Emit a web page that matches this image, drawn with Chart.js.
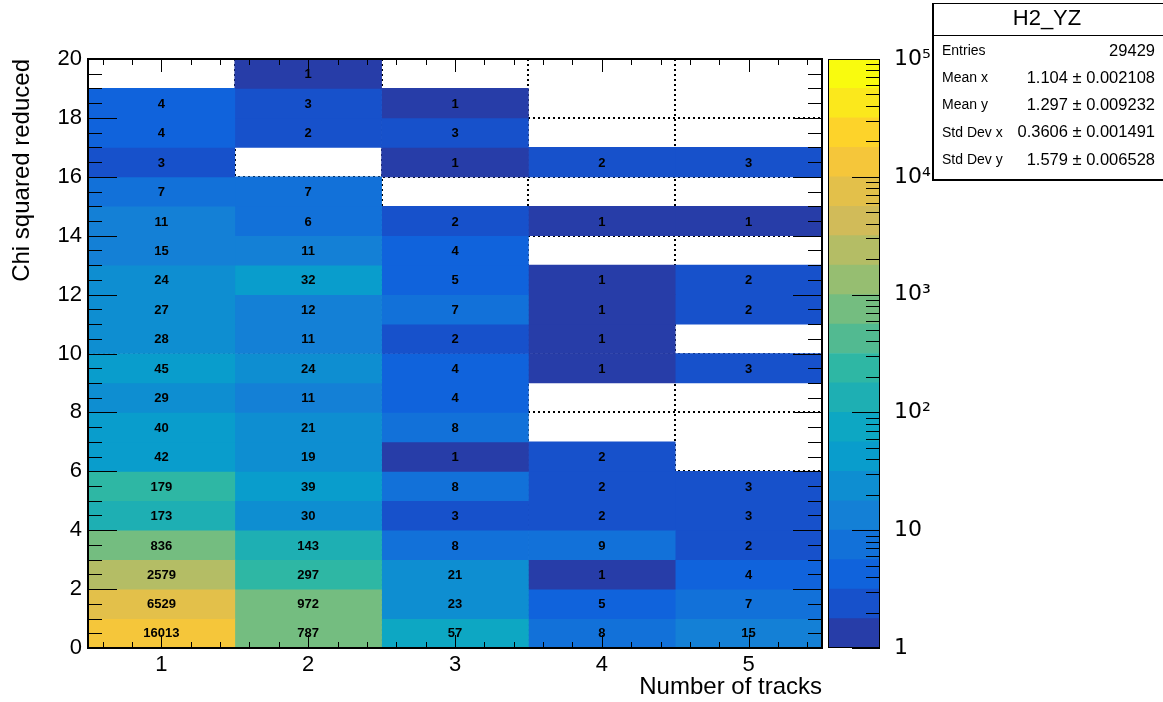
<!DOCTYPE html>
<html>
<head>
<meta charset="utf-8">
<script src="https://cdn.jsdelivr.net/npm/chart.js@4.4.1/dist/chart.umd.min.js"></script>
<style>
  body { margin: 0; background: #fff; }
  #wrap { position: relative; width: 1163px; height: 702px; }
  canvas { position: absolute; left: 0; top: 0; }
</style>
</head>
<body>
<div id="wrap">
  <canvas id="hist" width="1163" height="702"></canvas>
  <canvas id="palette" width="1163" height="702"></canvas>
</div>
<script>
// number of tracks (x bin centres)
const trackLabels = [1, 2, 3, 4, 5];
// chi2 bins, bottom to top: 0-1, 1-2, ... 19-20
const chiEdges = [0, 1, 2, 3, 4, 5, 6, 7, 8, 9, 10, 11, 12, 13, 14, 15, 16, 17, 18, 19, 20];
const chiTickLabels = [0, 2, 4, 6, 8, 10, 12, 14, 16, 18, 20];

// bin contents per track column, bottom row first (0 = empty bin)
const tracks1 = [16013, 6529, 2579, 836, 173, 179, 42, 40, 29, 45, 28, 27, 24, 15, 11, 7, 3, 4, 4, 0];
const tracks2 = [787, 972, 297, 143, 30, 39, 19, 21, 11, 24, 11, 12, 32, 11, 6, 7, 0, 2, 3, 1];
const tracks3 = [57, 23, 21, 8, 3, 8, 1, 8, 4, 4, 2, 7, 5, 4, 2, 0, 1, 3, 1, 0];
const tracks4 = [8, 5, 1, 9, 2, 2, 2, 0, 0, 1, 1, 1, 1, 0, 1, 0, 2, 0, 0, 0];
const tracks5 = [15, 7, 4, 2, 3, 3, 0, 0, 0, 3, 0, 2, 2, 0, 1, 0, 3, 0, 0, 0];
const columns = [tracks1, tracks2, tracks3, tracks4, tracks5];

const paletteDecades = [1, 10, 100, 1000, 10000, 100000];
const paletteTickLabels = ['1', '10', '10\u00B2', '10\u00B3', '10\u2074', '10\u2075'];

const statsTitle = 'H2_YZ';
const statsRows = [
    ['Entries', '29429'],
    ['Mean x', '1.104 \u00B1 0.002108'],
    ['Mean y', '1.297 \u00B1 0.009232'],
    ['Std Dev x', '0.3606 \u00B1 0.001491'],
    ['Std Dev y', '1.579 \u00B1 0.006528'],
];

const FONT = '"Liberation Sans", Arial, sans-serif';

// ROOT kBird palette, 20 contour levels on log z from 1 to 1e5
const birdStops = [0.0000, 0.1250, 0.2500, 0.3750, 0.5000, 0.6250, 0.7500, 0.8750, 1.0000];
const birdRed   = [0.2082, 0.0592, 0.0780, 0.0232, 0.1802, 0.5301, 0.8186, 0.9956, 0.9764];
const birdGreen = [0.1664, 0.3599, 0.5041, 0.6419, 0.7178, 0.7492, 0.7328, 0.7862, 0.9832];
const birdBlue  = [0.5293, 0.8684, 0.8385, 0.7914, 0.6425, 0.4662, 0.3499, 0.1968, 0.0539];
const nLevels = 20;
const zLogMin = 0;
const zLogMax = 5;

function birdColor(t) {
    let k = 0;
    while (k < birdStops.length - 2 && t > birdStops[k + 1]) k++;
    const f = (t - birdStops[k]) / (birdStops[k + 1] - birdStops[k]);
    const mix = arr => Math.round(255 * (arr[k] + f * (arr[k + 1] - arr[k])));
    return `rgb(${mix(birdRed)}, ${mix(birdGreen)}, ${mix(birdBlue)})`;
}

const levelColors = [];
for (let i = 0; i < nLevels; i++) {
    levelColors.push(birdColor(Math.floor((i + 0.99) * 255 / nLevels) / 254));
}

function levelColor(n) {
    let i = Math.floor((Math.log10(n) - zLogMin) / (zLogMax - zLogMin) * nLevels);
    i = Math.max(0, Math.min(nLevels - 1, i));
    return levelColors[i];
}

// one floating-bar dataset per track column, each non-empty bin is a bar
const histDatasets = columns.map((col, c) => ({
    data: col.map((n, r) => n > 0 ? { x: trackLabels[c], y: [chiEdges[r], chiEdges[r + 1]], n: n } : null)
             .filter(d => d !== null),
    backgroundColor: ctx => ctx.raw ? levelColor(ctx.raw.n) : 'transparent',
    borderWidth: 0,
    grouped: false,
    barPercentage: 1,
    categoryPercentage: 1
}));

// bin content text, like COLZ TEXT
const binTextPlugin = {
    id: 'binText',
    afterDatasetsDraw(chart) {
        const ctx = chart.ctx;
        ctx.save();
        ctx.font = `bold 13px ${FONT}`;
        ctx.fillStyle = '#000';
        ctx.textAlign = 'center';
        ctx.textBaseline = 'middle';
        chart.data.datasets.forEach((ds, i) => {
            chart.getDatasetMeta(i).data.forEach((bar, j) => {
                const p = bar.getProps(['x', 'y', 'base'], true);
                ctx.fillText(String(ds.data[j].n), p.x, (p.y + p.base) / 2 + 1);
            });
        });
        ctx.restore();
    }
};

// frame with inward ticks on all four sides, plus the stats box
const frameStatsPlugin = {
    id: 'frameStats',
    afterDraw(chart) {
        const { ctx, chartArea: a, scales: { x, y } } = chart;
        ctx.save();
        ctx.strokeStyle = '#000';
        ctx.lineWidth = 1;
        ctx.beginPath();
        for (let k = 3; k <= 27; k++) {
            const v = k / 5;
            const px = Math.round(x.getPixelForValue(v)) + 0.5;
            const len = k % 5 === 0 ? 13 : 6;
            ctx.moveTo(px, a.bottom); ctx.lineTo(px, a.bottom - len);
            ctx.moveTo(px, a.top); ctx.lineTo(px, a.top + len);
        }
        for (let k = 1; k < 40; k++) {
            const v = k / 2;
            const py = Math.round(y.getPixelForValue(v)) + 0.5;
            const len = k % 4 === 0 ? 29 : 14;
            ctx.moveTo(a.left, py); ctx.lineTo(a.left + len, py);
            ctx.moveTo(a.right, py); ctx.lineTo(a.right - len, py);
        }
        ctx.stroke();
        ctx.lineWidth = 2;
        ctx.strokeRect(a.left, a.top, a.right - a.left, a.bottom - a.top);

        // stats box
        const bx = 932, by = 3, bw = 1163 - 932, bh = 177;
        ctx.fillStyle = '#fff';
        ctx.fillRect(bx, by, bw, bh);
        ctx.lineWidth = 1;
        ctx.beginPath();
        ctx.moveTo(bx, by + 0.5); ctx.lineTo(bx + bw, by + 0.5);
        ctx.moveTo(bx, by + 32.5); ctx.lineTo(bx + bw, by + 32.5);
        ctx.stroke();
        ctx.lineWidth = 2;
        ctx.beginPath();
        ctx.moveTo(bx + 1, by); ctx.lineTo(bx + 1, by + bh + 1);
        ctx.moveTo(bx, by + bh); ctx.lineTo(bx + bw, by + bh);
        ctx.stroke();
        ctx.fillStyle = '#000';
        ctx.textBaseline = 'middle';
        ctx.textAlign = 'center';
        ctx.font = `22px ${FONT}`;
        ctx.fillText(statsTitle, 1047, 19);
        statsRows.forEach((row, i) => {
            const ty = 51 + i * 27.3;
            ctx.textAlign = 'left';
            ctx.font = `14px ${FONT}`;
            ctx.fillText(row[0], 942, ty);
            ctx.textAlign = 'right';
            ctx.font = `16.5px ${FONT}`;
            ctx.fillText(row[1], 1155, ty);
        });
        ctx.restore();
    }
};

new Chart(document.getElementById('hist'), {
    type: 'bar',
    data: { datasets: histDatasets },
    options: {
        responsive: false,
        animation: false,
        devicePixelRatio: 1,
        layout: { padding: { top: 59, right: 341, left: 0, bottom: 0 } },
        plugins: { legend: { display: false }, tooltip: { enabled: false } },
        scales: {
            x: {
                type: 'linear',
                min: 0.5,
                max: 5.5,
                offset: false,
                z: 1,
                afterBuildTicks: s => { s.ticks = trackLabels.map(v => ({ value: v })); },
                afterFit: s => { s.height = 54; },
                grid: { color: '#000', lineWidth: 2, drawTicks: false },
                border: { display: false, dash: [2, 3] },
                ticks: { color: '#000', padding: 4, font: { family: FONT, size: 22 } },
                title: {
                    display: true,
                    text: 'Number of tracks',
                    align: 'end',
                    color: '#000',
                    padding: { top: 0, bottom: 0 },
                    font: { family: FONT, size: 24 }
                }
            },
            y: {
                type: 'linear',
                min: 0,
                max: 20,
                z: 1,
                afterBuildTicks: s => { s.ticks = chiTickLabels.map(v => ({ value: v })); },
                afterFit: s => { s.width = 88; },
                grid: { color: '#000', lineWidth: 2, drawTicks: false },
                border: { display: false, dash: [2, 3] },
                ticks: { color: '#000', padding: 6, font: { family: FONT, size: 22 } },
                title: {
                    display: true,
                    text: 'Chi squared reduced',
                    align: 'end',
                    color: '#000',
                    padding: { top: 8, bottom: 0 },
                    font: { family: FONT, size: 24 }
                }
            }
        }
    },
    plugins: [binTextPlugin, frameStatsPlugin]
});

// colour palette: one floating bar per contour level on a log axis
const levelEdges = [];
for (let i = 0; i <= nLevels; i++) {
    levelEdges.push(Math.pow(10, zLogMin + (zLogMax - zLogMin) * i / nLevels));
}
const paletteDatasets = levelColors.map((col, i) => ({
    data: [[levelEdges[i], levelEdges[i + 1]]],
    backgroundColor: col,
    borderWidth: 0,
    grouped: false,
    barPercentage: 1,
    categoryPercentage: 1
}));

const paletteFramePlugin = {
    id: 'paletteFrame',
    afterDraw(chart) {
        const { ctx, chartArea: a, scales: { y } } = chart;
        ctx.save();
        ctx.strokeStyle = '#000';
        ctx.lineWidth = 1;
        ctx.beginPath();
        for (let d = 0; d < paletteDecades.length; d++) {
            for (let m = 1; m <= 9; m++) {
                const v = paletteDecades[d] * m;
                if (v > paletteDecades[paletteDecades.length - 1]) break;
                const py = Math.round(y.getPixelForValue(v)) + 0.5;
                const len = m === 1 ? 28 : 14;
                ctx.moveTo(a.right, py); ctx.lineTo(a.right - len, py);
            }
        }
        ctx.stroke();
        ctx.strokeRect(a.left + 0.5, a.top + 0.5, a.right - a.left - 1, a.bottom - a.top - 1);
        ctx.restore();
    }
};

new Chart(document.getElementById('palette'), {
    type: 'bar',
    data: { labels: ['z'], datasets: paletteDatasets },
    options: {
        responsive: false,
        animation: false,
        devicePixelRatio: 1,
        layout: { padding: { top: 59, right: 223, left: 828, bottom: 54 } },
        plugins: { legend: { display: false }, tooltip: { enabled: false } },
        scales: {
            x: { display: false },
            y: {
                type: 'logarithmic',
                position: 'right',
                min: 1,
                max: 100000,
                afterBuildTicks: s => { s.ticks = paletteDecades.map(v => ({ value: v })); },
                afterFit: s => { s.width = 60; },
                grid: { display: false },
                border: { display: false },
                ticks: {
                    color: '#000',
                    padding: 6,
                    font: { family: '"DejaVu Sans", sans-serif', size: 22 },
                    callback: v => paletteTickLabels[paletteDecades.indexOf(v)]
                }
            }
        }
    },
    plugins: [paletteFramePlugin]
});
</script>
</body>
</html>
